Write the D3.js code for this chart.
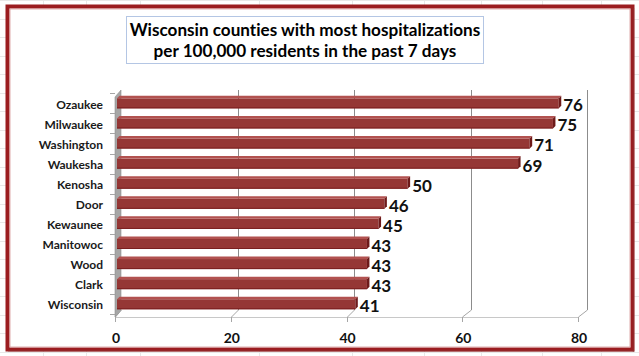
<!DOCTYPE html>
<html><head><meta charset="utf-8">
<script src="https://cdn.jsdelivr.net/npm/d3@7"></script>
<style>body{margin:0;background:#fff} svg{display:block} text{font-variant-ligatures:none;font-feature-settings:"liga" 0,"clig" 0;}</style>
</head><body><svg id="c" width="639" height="356"></svg>
<script>
const categories = ["Ozaukee","Milwaukee","Washington","Waukesha","Kenosha","Door","Kewaunee","Manitowoc","Wood","Clark","Wisconsin"];
const values = [76,75,71,69,50,46,45,43,43,43,41];
const xTicks = [0,20,40,60,80];
const titleLines = ["Wisconsin counties with most hospitalizations","per 100,000 residents in the past 7 days"];

const svg = d3.select("#c");
const W = 639, H = 356;
const FONT = "Lato, 'Open Sans', sans-serif";

// spreadsheet grid in background
const sheetV = [43,86,140,259,352,424,481,542,601];
const sheetH = d3.range(0, 360, 18.5);
const bg = svg.append("g");
bg.selectAll("line.v").data(sheetV).join("line")
  .attr("x1", d=>d+0.5).attr("x2", d=>d+0.5).attr("y1",0).attr("y2",H)
  .attr("stroke","#e8e8e8").attr("stroke-width",1);
bg.selectAll("line.h").data(sheetH).join("line")
  .attr("x1",0).attr("x2",W).attr("y1",d=>Math.round(d)+0.5).attr("y2",d=>Math.round(d)+0.5)
  .attr("stroke","#e8e8e8").attr("stroke-width",1);

// chart area + frame
svg.append("rect").attr("x",8).attr("y",7).attr("width",624).attr("height",342).attr("fill","#fff");
svg.append("rect").attr("x",7.5).attr("y",6.5).attr("width",625).attr("height",343)
  .attr("fill","none").attr("stroke","#9b1d20").attr("stroke-width",4);
svg.append("rect").attr("x",10).attr("y",9).attr("width",620).attr("height",338)
  .attr("fill","none").attr("stroke","#d89a9a").attr("stroke-width",0.8);
// shadow right/bottom
svg.append("line").attr("x1",633.5).attr("x2",633.5).attr("y1",8).attr("y2",352).attr("stroke","#8a3a3a").attr("stroke-opacity",0.45).attr("stroke-width",1.5);
svg.append("line").attr("x1",8).attr("x2",634).attr("y1",351).attr("y2",351).attr("stroke","#8a3a3a").attr("stroke-opacity",0.45).attr("stroke-width",1.5);

// title
svg.append("rect").attr("x",126.5).attr("y",16.5).attr("width",357).attr("height",47)
  .attr("fill","#fff").attr("stroke","#b4c6e4").attr("stroke-width",1);
const tl = svg.append("g").attr("font-family",FONT).attr("font-weight","bold").attr("fill","#000");
const t1 = tl.append("text").attr("x",305).attr("y",36).attr("text-anchor","middle").attr("font-size",17).text(titleLines[0]);
const t2 = tl.append("text").attr("x",305).attr("y",57).attr("text-anchor","middle").attr("font-size",17).text(titleLines[1]);
const len1 = t1.node().getComputedTextLength();
const fs = Math.min(18, 17*351/len1);
t1.attr("font-size",fs); t2.attr("font-size",fs);

// scales
const xBack = d3.scaleLinear().domain([0,80]).range([121,587]);
const xFront = d3.scaleLinear().domain([0,80]).range([115,578]);
const xBar = d3.scaleLinear().domain([0,80]).range([117,582]);
const y = d3.scaleBand().domain(categories).range([93.3,314.3]).paddingInner(0.5).paddingOuter(0.25);
const wallTop = 90, wallBot = 310, floorFront = 317;

// back wall gridlines
svg.append("g").selectAll("line").data(xTicks.slice(1)).join("line")
  .attr("x1",d=>Math.round(xBack(d))+0.5).attr("x2",d=>Math.round(xBack(d))+0.5).attr("y1",wallTop).attr("y2",wallBot)
  .attr("stroke","#8c8c8c").attr("stroke-width",1);
// floor diagonals
svg.append("g").selectAll("line").data(xTicks).join("line")
  .attr("x1",d=>Math.round(xBack(d))+0.5).attr("x2",d=>Math.round(xFront(d))+0.5).attr("y1",wallBot).attr("y2",floorFront)
  .attr("stroke","#a6a6a6").attr("stroke-width",1);
// front floor edge
svg.append("line").attr("x1",xFront(0)).attr("x2",xFront(80)).attr("y1",floorFront+0.5).attr("y2",floorFront+0.5)
  .attr("stroke","#c8c8c8").attr("stroke-width",1);
// front ticks
svg.append("g").selectAll("line").data(xTicks).join("line")
  .attr("x1",d=>Math.round(xFront(d))+0.5).attr("x2",d=>Math.round(xFront(d))+0.5).attr("y1",floorFront).attr("y2",floorFront+5)
  .attr("stroke","#a6a6a6").attr("stroke-width",1);

// left side wall
svg.append("polygon")
  .attr("points",[[xFront(0),wallTop+7],[xBack(0),wallTop],[xBack(0),wallBot],[xFront(0),floorFront]].map(p=>p.join(",")).join(" "))
  .attr("fill","#a6a6a6").attr("stroke","#8f8f8f").attr("stroke-width",0.6);

// category ticks
const bounds = categories.map(c=>y(c)-y.step()*0.25).concat([y(categories[categories.length-1])+y.bandwidth()+y.step()*0.25]);
svg.append("g").selectAll("line").data(bounds).join("line")
  .attr("x1",110).attr("x2",xFront(0)).attr("y1",d=>Math.round(d)+0.5).attr("y2",d=>Math.round(d)+0.5)
  .attr("stroke","#a6a6a6").attr("stroke-width",1);

// category labels
svg.append("g").selectAll("text").data(categories).join("text")
  .attr("x",103).attr("y",d=>y(d)+y.bandwidth()/2+1).attr("dy","0.35em")
  .attr("text-anchor","end").attr("font-family",FONT).attr("font-weight","bold").attr("font-size",12)
  .attr("fill","#1a1a1a").text(d=>d);

// bars (3D)
const dx = 2.5, dy = 2.5;
const bars = svg.append("g").selectAll("g").data(categories.map((c,i)=>({c,v:values[i]}))).join("g");
bars.append("rect")
  .attr("x",xBar(0)).attr("y",d=>y(d.c)).attr("width",d=>xBar(d.v)-xBar(0)).attr("height",y.bandwidth())
  .attr("fill","#953735");
bars.append("polygon") // top face
  .attr("points",d=>{const y0=y(d.c),x0=xBar(0),x1=xBar(d.v);return [[x0,y0],[x1,y0],[x1+dx,y0-dy],[x0+dx,y0-dy]].map(p=>p.join(",")).join(" ");})
  .attr("fill","#b25250");
bars.append("polygon") // end face
  .attr("points",d=>{const y0=y(d.c),y1=y0+y.bandwidth(),x1=xBar(d.v);return [[x1,y0],[x1+dx,y0-dy],[x1+dx,y1-dy],[x1,y1]].map(p=>p.join(",")).join(" ");})
  .attr("fill","#6e1a1a");
bars.append("line") // bottom edge
  .attr("x1",xBar(0)).attr("x2",d=>xBar(d.v)).attr("y1",d=>y(d.c)+y.bandwidth()-0.5).attr("y2",d=>y(d.c)+y.bandwidth()-0.5)
  .attr("stroke","#7a1f1f").attr("stroke-width",1);

// value labels
svg.append("g").selectAll("text").data(categories.map((c,i)=>({c,v:values[i]}))).join("text")
  .attr("x",d=>xBar(d.v)+dx+2).attr("y",d=>y(d.c)+y.bandwidth()/2+2).attr("dy","0.35em")
  .attr("font-family",FONT).attr("font-weight","bold").attr("font-size",17).attr("fill","#111")
  .text(d=>d.v);

// x tick labels
svg.append("g").selectAll("text").data(xTicks).join("text")
  .attr("x",d=>xFront(d)+1).attr("y",343).attr("text-anchor","middle")
  .attr("font-family",FONT).attr("font-weight","bold").attr("font-size",14).attr("fill","#111")
  .text(d=>d);
</script></body></html>
